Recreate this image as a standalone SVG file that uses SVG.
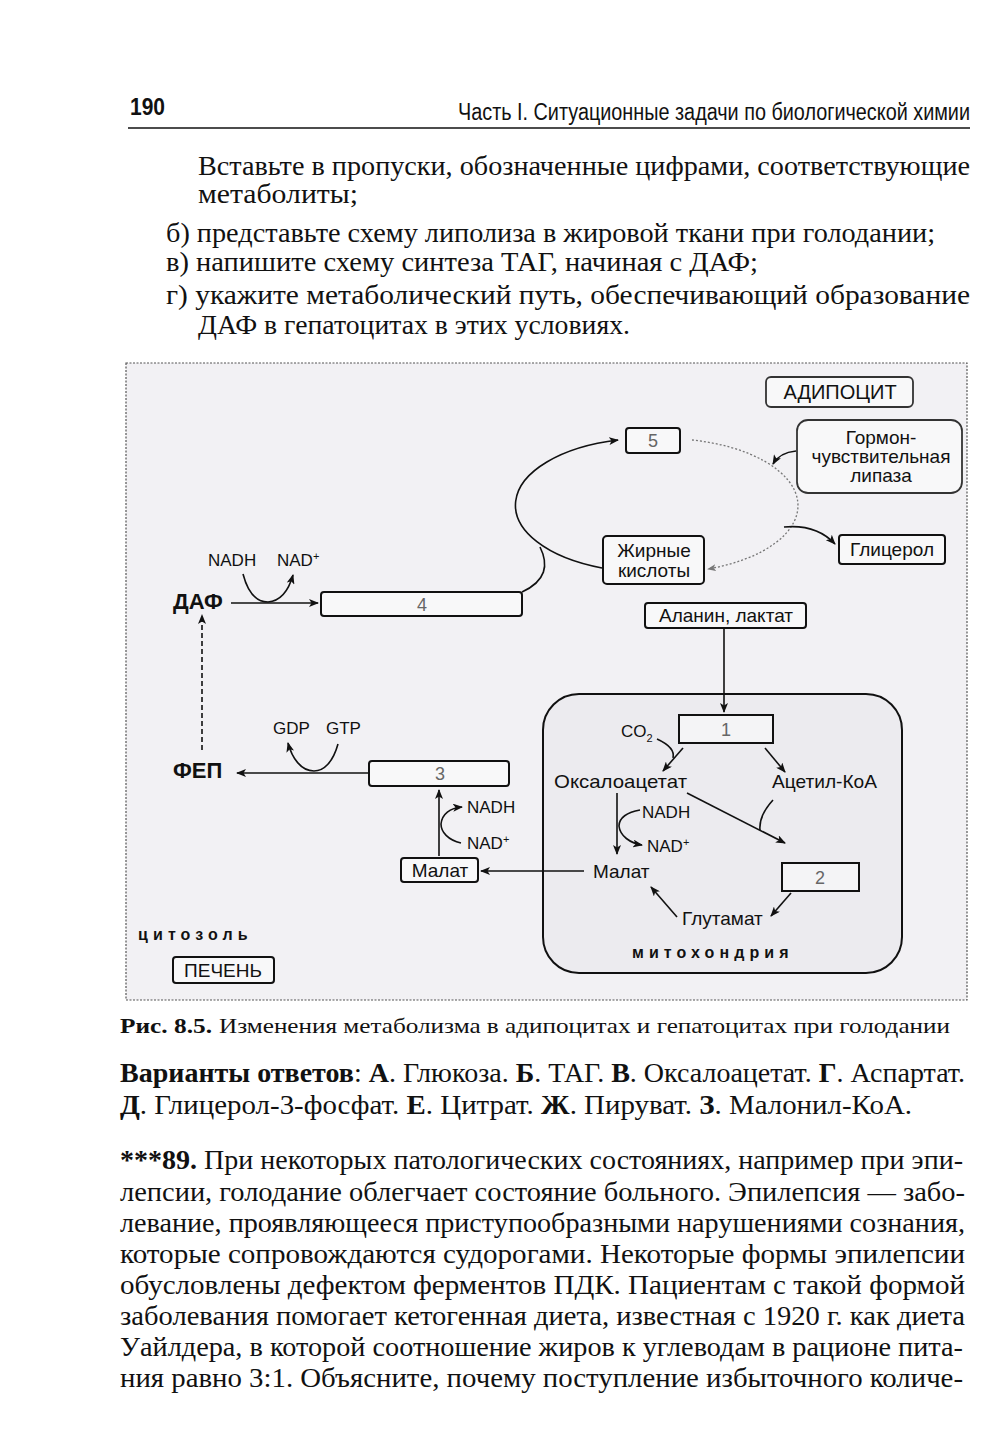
<svg xmlns="http://www.w3.org/2000/svg" width="1000" height="1447" viewBox="0 0 1000 1447">
<style>
.serif{font-family:"Liberation Serif","Times New Roman",serif;fill:#111}
.sans{font-family:"Liberation Sans",Arial,sans-serif;fill:#111}
.body{font-size:27px}
.lbl{font-size:19px}
.num{font-size:18px;fill:#666}
.box{fill:#f8f8f9;stroke:#111;stroke-width:2}
.ln{fill:none;stroke:#111;stroke-width:1.6}
.dot{fill:none;stroke:#777;stroke-width:1.3;stroke-dasharray:2,2}
.spaced{font-size:16px;font-weight:bold;letter-spacing:4.5px}
</style>
<defs>
<marker id="ah" viewBox="0 0 10 8" refX="9" refY="4" markerWidth="10" markerHeight="8" markerUnits="userSpaceOnUse" orient="auto">
<path d="M0,0 L10,4 L0,8 L2.5,4 z" fill="#111"/>
</marker>
<marker id="ahg" viewBox="0 0 10 8" refX="9" refY="4" markerWidth="9" markerHeight="7" markerUnits="userSpaceOnUse" orient="auto">
<path d="M0,0 L10,4 L0,8 L2.5,4 z" fill="#777"/>
</marker>
</defs>
<rect width="1000" height="1447" fill="#fff"/>

<!-- header -->
<text class="sans" x="130" y="115" font-size="23" font-weight="bold" textLength="35" lengthAdjust="spacingAndGlyphs">190</text>
<text class="sans" transform="translate(458,120) scale(1,1.15)" x="0" y="0" font-size="20" textLength="512" lengthAdjust="spacingAndGlyphs">Часть I. Ситуационные задачи по биологической химии</text>
<line x1="128" y1="128" x2="970" y2="128" stroke="#111" stroke-width="1.6"/>

<!-- question text -->
<text class="serif body" x="198" y="175" textLength="772" lengthAdjust="spacingAndGlyphs">Вставьте в пропуски, обозначенные цифрами, соответствующие</text>
<text class="serif body" x="198" y="203" textLength="160" lengthAdjust="spacingAndGlyphs">метаболиты;</text>
<text class="serif body" x="166" y="242" textLength="769" lengthAdjust="spacingAndGlyphs">б) представьте схему липолиза в жировой ткани при голодании;</text>
<text class="serif body" x="166" y="271" textLength="592" lengthAdjust="spacingAndGlyphs">в) напишите схему синтеза ТАГ, начиная с ДАФ;</text>
<text class="serif body" x="166" y="304" textLength="804" lengthAdjust="spacingAndGlyphs">г) укажите метаболический путь, обеспечивающий образование</text>
<text class="serif body" x="198" y="334" textLength="432" lengthAdjust="spacingAndGlyphs">ДАФ в гепатоцитах в этих условиях.</text>

<!-- diagram frame -->
<rect x="126" y="363" width="841" height="637" fill="#f2f1f4" stroke="#555" stroke-width="1.2" stroke-dasharray="2,1.5"/>

<g id="mitochondrion">
<rect x="543" y="694" width="359" height="279" rx="36" fill="#ecebef" stroke="#111" stroke-width="2"/>
<text class="sans spaced" x="632" y="958" textLength="161">митохондрия</text>
</g>

<g id="adipocyte">
<rect x="766" y="377" width="147" height="30" rx="5" fill="#f8f8f9" stroke="#333" stroke-width="1.8"/>
<text class="sans" x="840" y="399" font-size="20" text-anchor="middle">АДИПОЦИТ</text>
</g>

<g id="box5">
<rect class="box" x="626" y="428" width="54" height="25" rx="3"/>
<text class="sans num" x="653" y="447" text-anchor="middle">5</text>
</g>

<g id="lipase">
<rect x="797" y="420" width="165" height="73" rx="11" fill="#f8f8f9" stroke="#333" stroke-width="1.8"/>
<text class="sans lbl" x="881" y="444" text-anchor="middle">Гормон-</text>
<text class="sans lbl" x="881" y="463" text-anchor="middle">чувствительная</text>
<text class="sans lbl" x="881" y="482" text-anchor="middle">липаза</text>
</g>

<g id="glycerol">
<rect class="box" x="839" y="535" width="106" height="29" rx="3"/>
<text class="sans lbl" x="892" y="556" text-anchor="middle">Глицерол</text>
</g>

<g id="fatty-acids">
<rect class="box" x="603" y="536" width="101" height="48" rx="4"/>
<text class="sans lbl" x="654" y="557" text-anchor="middle">Жирные</text>
<text class="sans lbl" x="654" y="577" text-anchor="middle">кислоты</text>
</g>

<g id="alanine-lactate">
<rect class="box" x="645" y="603" width="161" height="25" rx="3"/>
<text class="sans lbl" x="726" y="622" text-anchor="middle">Аланин, лактат</text>
</g>

<g id="box4">
<rect class="box" x="321" y="592" width="201" height="24" rx="3"/>
<text class="sans num" x="422" y="611" text-anchor="middle">4</text>
</g>

<g id="daf">
<text class="sans" x="173" y="609" font-size="22" font-weight="bold">ДАФ</text>
<text class="sans" x="208" y="566" font-size="17">NADH</text>
<text class="sans" x="277" y="566" font-size="17">NAD<tspan font-size="11" dy="-6">+</tspan></text>
</g>

<g id="fep">
<text class="sans" x="173" y="778" font-size="22" font-weight="bold">ФЕП</text>
<text class="sans" x="273" y="734" font-size="17">GDP</text>
<text class="sans" x="326" y="734" font-size="17">GTP</text>
</g>

<g id="box3">
<rect class="box" x="369" y="761" width="140" height="25" rx="3"/>
<text class="sans num" x="440" y="780" text-anchor="middle">3</text>
</g>

<g id="malate-cytosol">
<rect class="box" x="401" y="858" width="77" height="24" rx="3"/>
<text class="sans lbl" x="440" y="877" text-anchor="middle">Малат</text>
<text class="sans" x="467" y="813" font-size="17">NADH</text>
<text class="sans" x="467" y="849" font-size="17">NAD<tspan font-size="11" dy="-6">+</tspan></text>
</g>

<g id="cytosol-label">
<text class="sans spaced" x="138" y="940" textLength="114">цитозоль</text>
</g>

<g id="liver">
<rect class="box" x="173" y="957" width="101" height="26" rx="3"/>
<text class="sans" x="223" y="977" font-size="19" text-anchor="middle">ПЕЧЕНЬ</text>
</g>

<g id="box1">
<rect x="679" y="715" width="94" height="28" fill="#f4f4f6" stroke="#111" stroke-width="2"/>
<text class="sans num" x="726" y="736" text-anchor="middle">1</text>
</g>

<g id="co2">
<text class="sans" x="621" y="737" font-size="17">CO<tspan font-size="11" dy="5">2</tspan></text>
</g>

<g id="oxaloacetate">
<text class="sans lbl" x="554" y="788" textLength="133" lengthAdjust="spacingAndGlyphs">Оксалоацетат</text>
</g>

<g id="acetyl-coa">
<text class="sans lbl" x="772" y="788" textLength="105" lengthAdjust="spacingAndGlyphs">Ацетил-КоА</text>
</g>

<g id="nad-mito">
<text class="sans" x="642" y="818" font-size="17">NADH</text>
<text class="sans" x="647" y="852" font-size="17">NAD<tspan font-size="11" dy="-6">+</tspan></text>
</g>

<g id="malate-mito">
<text class="sans lbl" x="593" y="878">Малат</text>
</g>

<g id="box2">
<rect x="782" y="863" width="77" height="28" fill="#f4f4f6" stroke="#111" stroke-width="2"/>
<text class="sans num" x="820" y="884" text-anchor="middle">2</text>
</g>

<g id="glutamate">
<text class="sans lbl" x="682" y="925">Глутамат</text>
</g>

<g id="connectors">
<path class="ln" d="M602,568 A133,67 0 0 1 618,440" marker-end="url(#ah)"/>
<path class="dot" d="M692,440 A133,67 0 0 1 708,569" marker-end="url(#ahg)"/>
<path class="ln" d="M796,451 C785,452 777,457 773,464" marker-end="url(#ah)"/>
<path class="ln" d="M784,527 C805,525 822,530 835,544" marker-end="url(#ah)"/>
<path class="ln" d="M540,547 C549,565 546,581 522,592"/>
<path class="ln" d="M231,603 L318,603" marker-end="url(#ah)"/>
<path class="ln" d="M243,574 C249,597 259,602 268,602 C281,601 289,589 293,575" marker-end="url(#ah)"/>
<path class="ln" d="M202,750 L202,615" stroke-dasharray="5,3" marker-end="url(#ah)"/>
<path class="ln" d="M368,773 L237,773" marker-end="url(#ah)"/>
<path class="ln" d="M338,744 C333,762 324,771 314,771 C301,771 292,758 288,743" marker-end="url(#ah)"/>
<path class="ln" d="M439,856 L439,790" marker-end="url(#ah)"/>
<path class="ln" d="M461,843 C448,840 441,832 441,824 C442,814 450,808 462,807" marker-end="url(#ah)"/>
<path class="ln" d="M584,871 L481,871" marker-end="url(#ah)"/>
<path class="ln" d="M724,629 L724,712" marker-end="url(#ah)"/>
<path class="ln" d="M683,748 L663,771" marker-end="url(#ah)"/>
<path class="ln" d="M657,739 C668,744 675,750 673,758"/>
<path class="ln" d="M765,748 L785,772" marker-end="url(#ah)"/>
<path class="ln" d="M687,793 L785,843" marker-end="url(#ah)"/>
<path class="ln" d="M773,800 C763,811 759,820 760,830"/>
<path class="ln" d="M617,793 L617,854" marker-end="url(#ah)"/>
<path class="ln" d="M640,810 C627,812 619,818 619,826 C620,836 630,843 642,845" marker-end="url(#ah)"/>
<path class="ln" d="M791,893 L771,916" marker-end="url(#ah)"/>
<path class="ln" d="M677,917 L651,887" marker-end="url(#ah)"/>
</g>

<!-- caption -->
<text class="serif" x="120" y="1033" font-size="22" font-weight="bold" textLength="92" lengthAdjust="spacingAndGlyphs">Рис. 8.5.</text>
<text class="serif" x="219" y="1033" font-size="22" textLength="731" lengthAdjust="spacingAndGlyphs">Изменения метаболизма в адипоцитах и гепатоцитах при голодании</text>

<text class="serif body" x="120" y="1082" textLength="845" lengthAdjust="spacingAndGlyphs"><tspan font-weight="bold">Варианты ответов</tspan>: <tspan font-weight="bold">А</tspan>. Глюкоза. <tspan font-weight="bold">Б</tspan>. ТАГ. <tspan font-weight="bold">В</tspan>. Оксалоацетат. <tspan font-weight="bold">Г</tspan>. Аспартат.</text>
<text class="serif body" x="120" y="1114" textLength="792" lengthAdjust="spacingAndGlyphs"><tspan font-weight="bold">Д</tspan>. Глицерол-3-фосфат. <tspan font-weight="bold">Е</tspan>. Цитрат. <tspan font-weight="bold">Ж</tspan>. Пируват. <tspan font-weight="bold">З</tspan>. Малонил-КоА.</text>

<text class="serif body" x="120" y="1169" textLength="843" lengthAdjust="spacingAndGlyphs"><tspan font-weight="bold">***89.</tspan> При некоторых патологических состояниях, например при эпи-</text>
<text class="serif body" x="120" y="1201" textLength="845" lengthAdjust="spacingAndGlyphs">лепсии, голодание облегчает состояние больного. Эпилепсия — забо-</text>
<text class="serif body" x="120" y="1232" textLength="845" lengthAdjust="spacingAndGlyphs">левание, проявляющееся приступообразными нарушениями сознания,</text>
<text class="serif body" x="120" y="1263" textLength="845" lengthAdjust="spacingAndGlyphs">которые сопровождаются судорогами. Некоторые формы эпилепсии</text>
<text class="serif body" x="120" y="1294" textLength="845" lengthAdjust="spacingAndGlyphs">обусловлены дефектом ферментов ПДК. Пациентам с такой формой</text>
<text class="serif body" x="120" y="1325" textLength="845" lengthAdjust="spacingAndGlyphs">заболевания помогает кетогенная диета, известная с 1920 г. как диета</text>
<text class="serif body" x="120" y="1356" textLength="843" lengthAdjust="spacingAndGlyphs">Уайлдера, в которой соотношение жиров к углеводам в рационе пита-</text>
<text class="serif body" x="120" y="1387" textLength="843" lengthAdjust="spacingAndGlyphs">ния равно 3:1. Объясните, почему поступление избыточного количе-</text>
</svg>
